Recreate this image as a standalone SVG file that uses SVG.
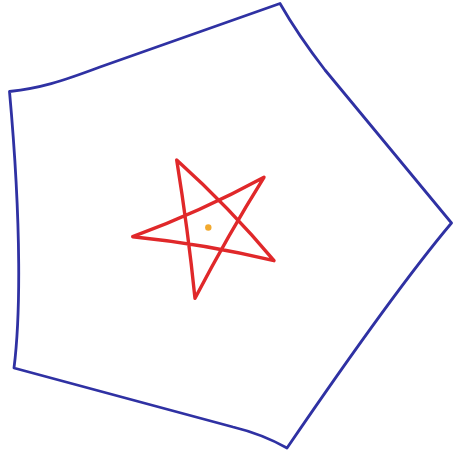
<svg xmlns="http://www.w3.org/2000/svg" width="453" height="456" viewBox="0 0 453 456">
  <style>
    .pent { fill: none; stroke: #2f31a3; stroke-width: 2.8; stroke-linejoin: round; stroke-linecap: round; }
    .star { fill: none; stroke: #e0282a; stroke-width: 3.4; stroke-linejoin: round; stroke-linecap: round; }
    .dot { fill: #f2a92e; }
  </style>
  <rect width="453" height="456" fill="#ffffff"/>
  <g id="pentagon">
    <path class="pent" d="M280,3.5 Q298,35 325,70 L451.5,223 Q395,290 287,448 Q262,434 233,427 L14,368 C20,320 22,230 9.5,91.5 C40,88 60,82 100,67 Z"/>
  </g>
  <g id="star">
    <path class="star" d="M176.7,160 Q188,230 195,298.3 Q228,235 264,177.3 Q200,212 132.7,236.7 Q205,244 274,260.7 Q230,208 176.7,160 Z"/>
  </g>
  <g id="center">
    <circle class="dot" cx="208.3" cy="227.5" r="3.2"/>
  </g>
</svg>
